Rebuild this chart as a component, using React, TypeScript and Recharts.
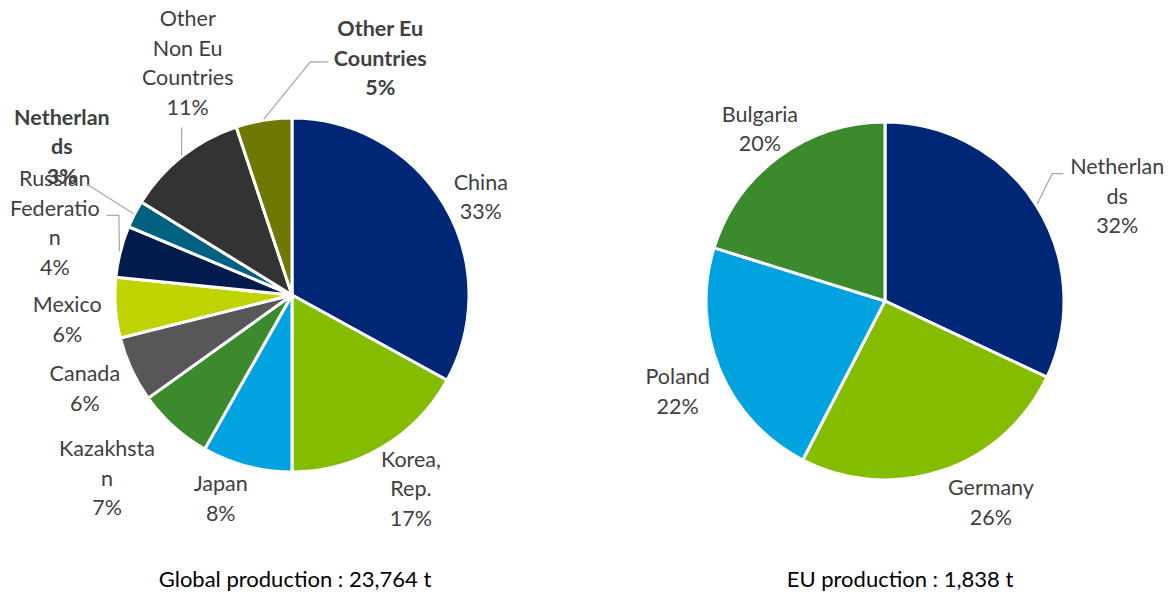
import { PieChart, Pie, Cell } from "recharts";

// global production shares (left pie), clockwise from 12 o'clock
const globalNames = [
  "China",
  "Korea,\nRep.",
  "Japan",
  "Kazakhsta\nn",
  "Canada",
  "Mexico",
  "Russian\nFederatio\nn",
  "Netherlan\nds",
  "Other\nNon Eu\nCountries",
  "Other Eu\nCountries",
];
const globalShares = [33, 17, 8.2, 6.9, 6, 5.5, 4.7, 2.5, 11.1, 5.1];
const globalPct = ["33%", "17%", "8%", "7%", "6%", "6%", "4%", "3%", "11%", "5%"];
const globalColors = [
  "#002776",
  "#84bc00",
  "#00a3e0",
  "#3c8a2e",
  "#575757",
  "#bfd400",
  "#011c4c",
  "#006080",
  "#333333",
  "#6f7800",
];
const globalBold = [false, false, false, false, false, false, false, true, false, true];

// EU production shares (right pie)
const euNames = ["Netherlan\nds", "Germany", "Poland", "Bulgaria"];
const euShares = [32, 25.6, 22.2, 20.2];
const euPct = ["32%", "26%", "22%", "20%"];
const euColors = ["#002776", "#84bc00", "#00a3e0", "#3c8a2e"];

// label placement: turn = clockwise nudge in degrees, out = distance past the rim
// leader = [bendDx, bendDy, endDx, endDy] relative to the label centre
type Place = { turn: number; out: number; leader?: number[] };
const globalPlace: Place[] = [
  { turn: 3, out: 36 },
  { turn: -1, out: 50 },
  { turn: 4.6, out: 38 },
  { turn: 3.4, out: 83 },
  { turn: 0.7, out: 50 },
  { turn: -2, out: 49 },
  { turn: 2.8, out: 71, leader: [64, -7, 52, -7] },
  { turn: 5.7, out: 97, leader: [25, 38, 25, 38] },
  { turn: 14.2, out: 78, leader: [-6, 65, -6, 65] },
  { turn: 29.6, out: 76, leader: [-70, 4, -52, 4] },
];
const euPlace: Place[] = [
  { turn: 8, out: 76, leader: [-65, -22, -54, -22] },
  { turn: -9.1, out: 48 },
  { turn: -0.8, out: 47 },
  { turn: 0.4, out: 34 },
];

const RAD = Math.PI / 180;
const FONT = "Lato, 'Open Sans', sans-serif";

function makeLabel(names: string[], pcts: string[], place: Place[], bold?: boolean[]) {
  return (props: any) => {
    const { cx, cy, midAngle, outerRadius, index } = props;
    const p = place[index];
    const a = (midAngle - p.turn) * RAD;
    const r = outerRadius + p.out;
    const x = cx + r * Math.cos(a);
    const y = cy - r * Math.sin(a);
    const lines = [...names[index].split("\n"), pcts[index]];
    const lh = 29.5;
    const y0 = y - ((lines.length - 1) * lh) / 2;
    let leader = null;
    if (p.leader) {
      const m = midAngle * RAD;
      const sx = cx + (outerRadius + 1) * Math.cos(m);
      const sy = cy - (outerRadius + 1) * Math.sin(m);
      const [bx, by, ex, ey] = p.leader;
      leader = (
        <polyline
          points={`${sx},${sy} ${x + bx},${y + by} ${x + ex},${y + ey}`}
          fill="none"
          stroke="#a6a6a6"
          strokeWidth={1.2}
        />
      );
    }
    return (
      <g key={`lbl-${index}`}>
        {leader}
        {lines.map((t, i) => (
          <text
            key={i}
            x={x}
            y={y0 + i * lh}
            textAnchor="middle"
            dominantBaseline="central"
            fill="#404040"
            fontFamily={FONT}
            fontSize={21.5}
            fontWeight={bold && bold[index] ? 700 : 400}
          >
            {t}
          </text>
        ))}
      </g>
    );
  };
}

const globalData = globalNames.map((name, i) => ({ name, value: globalShares[i] }));
const euData = euNames.map((name, i) => ({ name, value: euShares[i] }));

export default function App() {
  return (
    <div style={{ position: "absolute", left: 0, top: 0, width: 1168, height: 594, background: "#fff" }}>
      <PieChart width={1168} height={594} margin={{ top: 0, right: 0, bottom: 0, left: 0 }}>
        <Pie
          data={globalData}
          dataKey="value"
          cx={292}
          cy={295}
          outerRadius={177}
          startAngle={90}
          endAngle={-270}
          stroke="#ffffff"
          strokeWidth={3}
          labelLine={false}
          label={makeLabel(globalNames, globalPct, globalPlace, globalBold)}
          isAnimationActive={false}
        >
          {globalData.map((d, i) => (
            <Cell key={d.name} fill={globalColors[i]} />
          ))}
        </Pie>
        <Pie
          data={euData}
          dataKey="value"
          cx={885}
          cy={301}
          outerRadius={179}
          startAngle={90}
          endAngle={-270}
          stroke="#ffffff"
          strokeWidth={3}
          labelLine={false}
          label={makeLabel(euNames, euPct, euPlace)}
          isAnimationActive={false}
        >
          {euData.map((d, i) => (
            <Cell key={d.name} fill={euColors[i]} />
          ))}
        </Pie>
      </PieChart>
      <div
        style={{
          position: "absolute",
          left: 95,
          width: 400,
          top: 565,
          textAlign: "center",
          fontFamily: FONT,
          fontSize: 22,
          color: "#000",
        }}
      >
        Global production : 23,764 t
      </div>
      <div
        style={{
          position: "absolute",
          left: 700,
          width: 400,
          top: 565,
          textAlign: "center",
          fontFamily: FONT,
          fontSize: 22,
          color: "#000",
        }}
      >
        EU production : 1,838 t
      </div>
    </div>
  );
}
